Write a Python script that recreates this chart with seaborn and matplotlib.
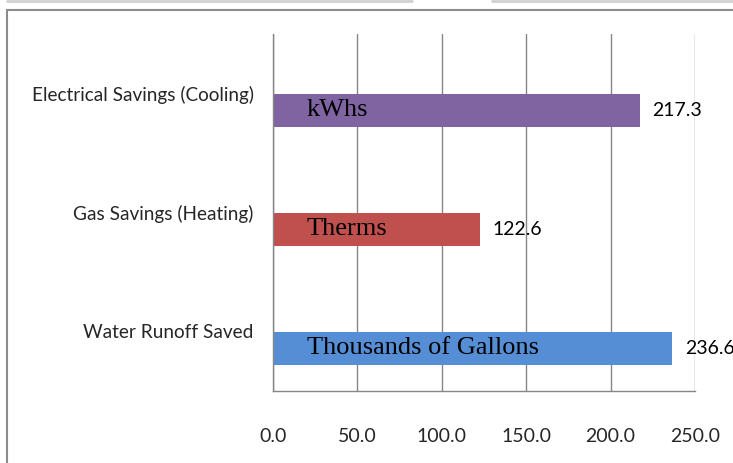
import matplotlib
matplotlib.use("Agg")
import matplotlib.pyplot as plt
from matplotlib.lines import Line2D
import pandas as pd
import seaborn as sns

# data
categories = ["Electrical Savings (Cooling)", "Gas Savings (Heating)", "Water Runoff Saved"]
savings = [217.3, 122.6, 236.6]
units = ["kWhs", "Therms", "Thousands of Gallons"]
bar_colors = ["#8064A2", "#C0504D", "#558ED5"]
x_ticks = [0, 50, 100, 150, 200, 250]

df = pd.DataFrame({"category": categories, "savings": savings, "series": "Savings"})

sns.set_style("white")
plt.rcParams["font.family"] = ["Lato", "DejaVu Sans"]

fig = plt.figure(figsize=(7.33, 4.63), dpi=100)
ax = fig.add_axes([273 / 733, 1 - 391 / 463, 422 / 733, 357 / 463])

# two series slots per category, only the second one holds values (as in the Excel original)
sns.barplot(data=df, y="category", x="savings", hue="series", order=categories,
            hue_order=["(blank)", "Savings"], dodge=True, width=0.57,
            orient="h", legend=False, ax=ax, saturation=1)

bars = [p for p in ax.patches if p.get_width() > 0]
for p, c in zip(bars, bar_colors):
    p.set_facecolor(c)
    p.set_edgecolor("none")

ax.bar_label(ax.containers[-1], fmt="%.1f", padding=9, fontsize=14, color="black")

for p, u in zip(bars, units):
    ax.text(20, p.get_y() + p.get_height() / 2, u, family="Liberation Serif",
            fontsize=19, va="center", ha="left", color="black")

grid_col = "#868686"
ax.set_xlim(0, 250)
ax.set_ylim(2.5, -0.5)
ax.set_xticks(x_ticks)
ax.set_xticklabels([f"{v:.1f}" for v in x_ticks], fontsize=14)
ax.xaxis.grid(True, color=grid_col, linewidth=1)
ax.set_axisbelow(True)
ax.tick_params(axis="x", length=7, color=grid_col, pad=20, direction="out")
ax.set_yticks([-0.5, 0.5, 1.5, 2.5], minor=True)
ax.tick_params(axis="y", which="minor", length=7, color=grid_col, direction="out")
ax.tick_params(axis="y", which="major", length=0, pad=14, labelsize=13.7)
ax.set_xlabel("")
ax.set_ylabel("")
for s in ["top", "right"]:
    ax.spines[s].set_visible(False)
for s in ["left", "bottom"]:
    ax.spines[s].set_color(grid_col)
    ax.spines[s].set_linewidth(1)

# outer chart frame and top strips from the screenshot
fig.add_artist(Line2D([7 / 733, 7 / 733], [0, 1 - 10 / 463], color="#8c8c8c", lw=1.5))
fig.add_artist(Line2D([7 / 733, 1], [1 - 10 / 463, 1 - 10 / 463], color="#8c8c8c", lw=1.5))
fig.add_artist(Line2D([7 / 733, 412 / 733], [1 - 1 / 463, 1 - 1 / 463], color="#d0d0d0", lw=2))
fig.add_artist(Line2D([492 / 733, 1], [1 - 1 / 463, 1 - 1 / 463], color="#d0d0d0", lw=2))

fig.savefig("out.png", dpi=100)
